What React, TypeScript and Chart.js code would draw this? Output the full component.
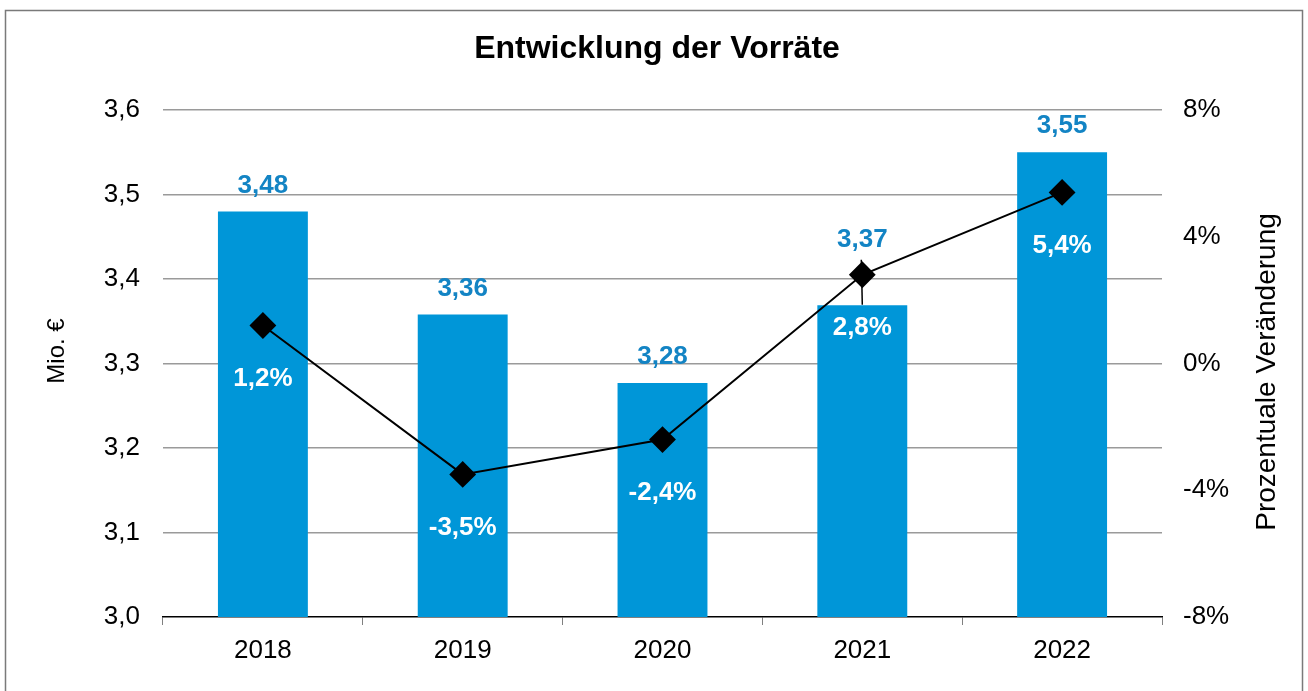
import React, { useEffect, useRef } from "react";
import { Chart, registerables } from "chart.js";

Chart.register(...registerables);

const categories = ["2018", "2019", "2020", "2021", "2022"];
const stockValues = [3.48, 3.358, 3.277, 3.369, 3.55];
const pctChange = [1.2, -3.5, -2.4, 2.8, 5.4];
const leftTicks = [3.0, 3.1, 3.2, 3.3, 3.4, 3.5, 3.6];
const rightTicks = [-8, -4, 0, 4, 8];
const leaderLineCategories = ["2021"];

const FONT = "'Liberation Sans', Arial, Helvetica, sans-serif";
const BAR_COLOR = "#0096D8";
const LABEL_BLUE = "#1384C4";
const GRID = "#9a9a9a";

const fmt = (v: number, d: number) => v.toFixed(d).replace(".", ",");

const decorPlugin = {
  id: "decor",
  beforeDraw(chart: any) {
    const ctx = chart.ctx;
    ctx.save();
    ctx.fillStyle = "#ffffff";
    ctx.fillRect(0, 0, chart.width, chart.height);
    ctx.strokeStyle = "#7a7a7a";
    ctx.lineWidth = 1.5;
    ctx.strokeRect(5.5, 10.5, 1297, 700);
    ctx.restore();
  },
  afterDraw(chart: any) {
    const ctx = chart.ctx;
    const ca = chart.chartArea;
    ctx.save();
    ctx.fillStyle = "#000";
    ctx.font = `bold 32px ${FONT}`;
    ctx.textAlign = "center";
    ctx.textBaseline = "middle";
    ctx.fillText("Entwicklung der Vorräte", 657, 49);
    ctx.font = `24px ${FONT}`;
    ctx.save();
    ctx.translate(57, 351);
    ctx.rotate(-Math.PI / 2);
    ctx.fillText("Mio. €", 0, 0);
    ctx.restore();
    ctx.font = `28px ${FONT}`;
    ctx.save();
    ctx.translate(1267, 372);
    ctx.rotate(-Math.PI / 2);
    ctx.fillText("Prozentuale Veränderung", 0, 0);
    ctx.restore();
    ctx.restore();
  },
  afterDatasetsDraw(chart: any) {
    const ctx = chart.ctx;
    ctx.save();
    ctx.textAlign = "center";
    ctx.textBaseline = "middle";
    const barMeta = chart.getDatasetMeta(1);
    const lineMeta = chart.getDatasetMeta(0);
    barMeta.data.forEach((el: any, i: number) => {
      const pt = lineMeta.data[i];
      let y = el.y - 26;
      // avoid collision with the line marker: move label above the marker
      if (pt && Math.abs(pt.y - y) < 30) y = Math.min(y, pt.y - 35);
      ctx.fillStyle = LABEL_BLUE;
      ctx.font = `bold 26px ${FONT}`;
      ctx.fillText(fmt(stockValues[i], 2), el.x, y);
    });
    lineMeta.data.forEach((el: any, i: number) => {
      if (leaderLineCategories.includes(categories[i])) {
        ctx.strokeStyle = "#000";
        ctx.lineWidth = 1.5;
        ctx.beginPath();
        ctx.moveTo(el.x - 1, el.y - 15);
        ctx.lineTo(el.x, el.y + 30);
        ctx.stroke();
      }
      ctx.fillStyle = "#ffffff";
      ctx.font = `bold 26px ${FONT}`;
      ctx.fillText(fmt(pctChange[i], 1) + "%", el.x, el.y + 53);
    });
    ctx.restore();
  },
};

export default function App() {
  const ref = useRef<HTMLCanvasElement | null>(null);
  useEffect(() => {
    if (!ref.current) return;
    const chart = new Chart(ref.current, {
      type: "bar",
      data: {
        labels: categories,
        datasets: [
          {
            type: "line",
            label: "Veränderung",
            data: pctChange,
            yAxisID: "y1",
            borderColor: "#000",
            borderWidth: 2,
            pointStyle: "rectRot",
            pointRadius: 12,
            pointBackgroundColor: "#000",
            pointBorderColor: "#000",
            order: 0,
          } as any,
          {
            type: "bar",
            label: "Vorräte",
            data: stockValues,
            yAxisID: "y",
            backgroundColor: BAR_COLOR,
            categoryPercentage: 1,
            barPercentage: 0.45,
            order: 1,
          },
        ],
      },
      options: {
        responsive: false,
        animation: false,
        layout: { padding: { top: 110, left: 0, right: 0, bottom: 0 } },
        plugins: {
          legend: { display: false },
          title: { display: false },
          tooltip: { enabled: false },
        },
        scales: {
          x: {
            offset: true,
            grid: {
              offset: true,
              drawOnChartArea: false,
              color: "#808080",
              tickLength: 8,
            },
            border: { color: "#000", width: 1.5 },
            ticks: {
              color: "#000",
              font: { family: FONT, size: 26 },
              padding: 10,
            },
            afterFit(scale: any) {
              scale.height = 74;
            },
          },
          y: {
            position: "left",
            min: leftTicks[0],
            max: leftTicks[leftTicks.length - 1],
            afterBuildTicks(scale: any) {
              scale.ticks = leftTicks.map((v) => ({ value: v }));
            },
            grid: {
              color: (c: any) => (c.tick && Math.abs(c.tick.value - 3.0) < 1e-6 ? "rgba(0,0,0,0)" : GRID),
              lineWidth: 1.5,
              drawTicks: false,
            },
            border: { display: false },
            ticks: {
              color: "#000",
              font: { family: FONT, size: 26 },
              padding: 23,
              callback: (v: any) => fmt(Number(v), 1),
            },
            afterFit(scale: any) {
              scale.width = 163;
            },
          },
          y1: {
            position: "right",
            min: rightTicks[0],
            max: rightTicks[rightTicks.length - 1],
            afterBuildTicks(scale: any) {
              scale.ticks = rightTicks.map((v) => ({ value: v }));
            },
            grid: { display: false, drawTicks: false },
            border: { display: false },
            ticks: {
              color: "#000",
              font: { family: FONT, size: 26 },
              padding: 21,
              callback: (v: any) => `${v}%`,
            },
            afterFit(scale: any) {
              scale.width = 146;
            },
          },
        },
      },
      plugins: [decorPlugin],
    });
    return () => chart.destroy();
  }, []);
  return (
    <canvas
      ref={ref}
      width={1308}
      height={691}
      style={{ position: "absolute", left: 0, top: 0, display: "block" }}
    />
  );
}
